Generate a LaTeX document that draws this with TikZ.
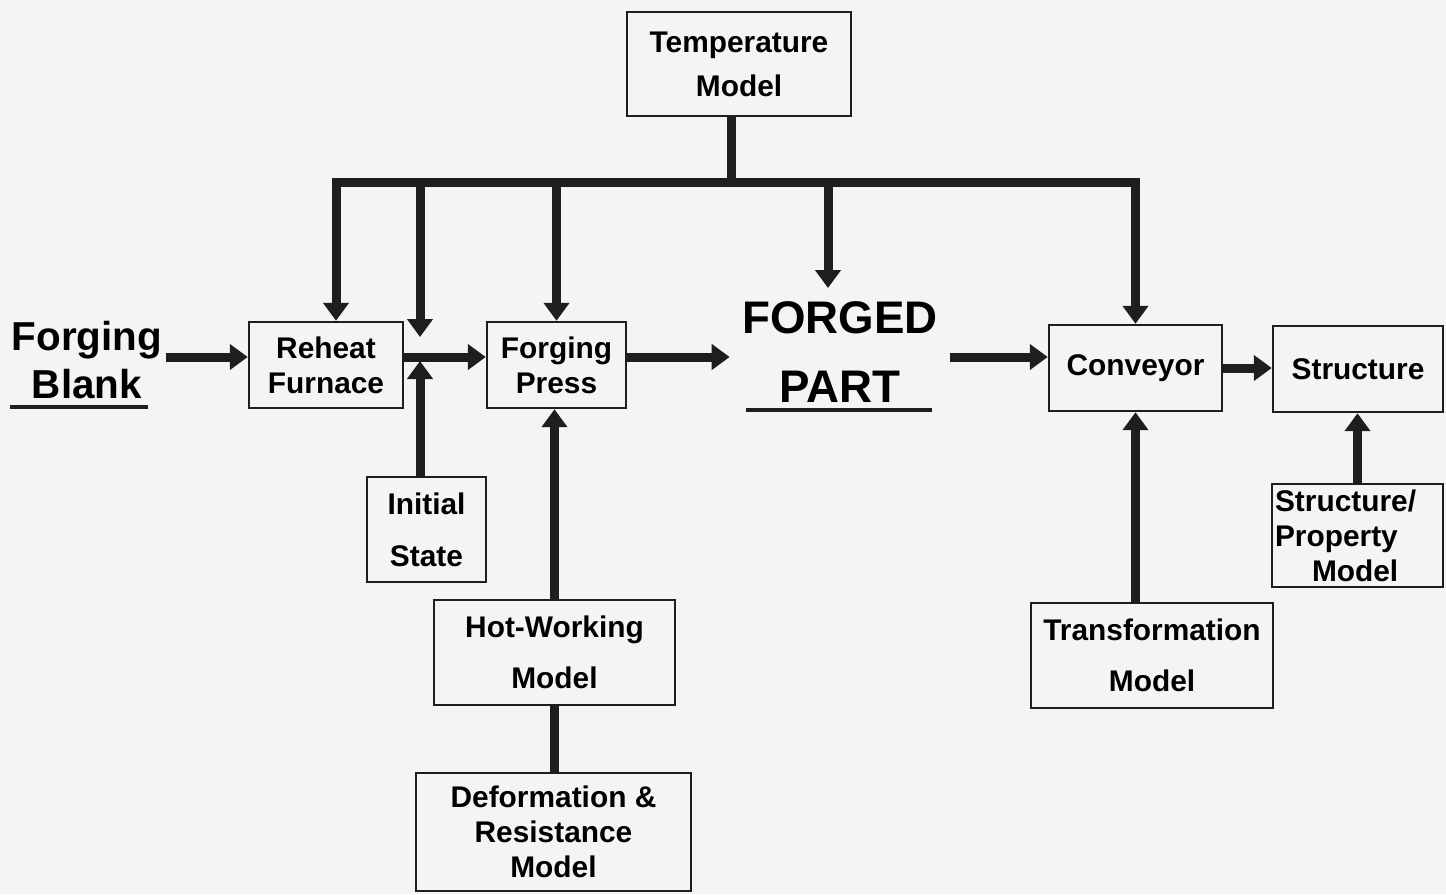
\documentclass[tikz,border=0pt]{standalone}
\usepackage{fontspec}
\setmainfont{Liberation Sans}
\usetikzlibrary{arrows.meta}
\definecolor{ink}{RGB}{30,30,30}
\definecolor{paper}{RGB}{244,244,244}
\newcommand{\boxfont}{\fontsize{17}{20}\selectfont\bfseries}
\tikzset{
  box/.style={draw=ink, line width=1.4pt, inner sep=0pt, align=center, font=\boxfont},
  wh/.style 2 args={minimum width=#1*0.02cm, minimum height=#2*0.02cm},
  flowline/.style={ink, line width=0.18cm},
  flowarr/.style={flowline, -{Triangle[width=0.5cm,length=0.36cm]}},
  uline/.style={ink, line width=2.2pt},
}
\begin{document}
\begin{tikzpicture}[x=0.02cm, y=-0.02cm]
\useasboundingbox[fill=paper] (0,0) rectangle (1446,894);
% process stages
\node[font=\fontsize{23}{27}\selectfont\bfseries, align=center, inner sep=2pt] (blank) at (87,360) {Forging\\Blank};
\node[box, wh={154}{86}] (reheat) at (326,365) {Reheat\\Furnace};
\node[box, wh={139}{86}] (press) at (556.5,365) {Forging\\Press};
\node[font=\fontsize{26}{39}\selectfont\bfseries, align=center, inner sep=0pt, minimum width=220*0.02cm] (forged) at (840,352) {FORGED\\PART};
\node[box, wh={173}{86}] (conveyor) at (1135.5,368) {Conveyor};
\node[box, wh={170}{86}] (structure) at (1358,369) {Structure};
% models
\node[box, wh={224}{104}] (temp) at (739,64) {Temperature\\[5pt]Model};
\node[box, wh={119}{105}] (initial) at (426.5,529.5) {Initial\\[9.6pt]State};
\node[box, wh={241}{105}] (hotwork) at (554.5,652.5) {Hot-Working\\[9pt]Model};
\node[box, wh={275}{118}] (deform) at (553.5,832) {Deformation \&\\Resistance\\Model};
\node[box, wh={242}{105}] (transf) at (1152,655.5) {Transformation\\[9pt]Model};
\node[box, wh={171}{103}, text width=165*0.02cm, align=left] (structprop) at (1357.5,535.5) {Structure/\\Property\\\hspace*{0.74cm}Model};
% helper points
\coordinate (bus) at (731,182);
\coordinate (flow) at (0,357);
\coordinate (jn) at (420,357);
\coordinate (fpin) at (828,288);
% underlines
\draw[uline] (10,407) -- (148,407);
\draw[uline] (746,410) -- (932,410);
% temperature model feeds
\draw[flowline] (bus |- temp.south) -- (bus);
\draw[flowarr] (bus) -| ([xshift=0.2cm]reheat.north);
\draw[flowarr] (bus) -| (conveyor.north);
\draw[flowarr] (bus -| jn) -- ([yshift=0.4cm]jn);
\draw[flowarr] (bus -| press.north) -- (press.north);
\draw[flowarr] (bus -| fpin) -- (fpin);
% main flow
\draw[flowarr] (blank.east |- flow) -- (reheat.west |- flow);
\draw[flowarr] (reheat.east |- flow) -- (press.west |- flow);
\draw[flowarr] (press.east |- flow) -- (forged.west |- flow);
\draw[flowarr] (forged.east |- flow) -- (conveyor.west |- flow);
\draw[flowarr] (conveyor.east) -- (conveyor.east -| structure.west);
% inputs from below
\draw[flowarr] (jn |- initial.north) -- ([yshift=-0.08cm]jn);
\draw[flowarr] (hotwork.north) -- (hotwork.north |- press.south);
\draw[flowline] (hotwork.south) -- (hotwork.south |- deform.north);
\draw[flowarr] (conveyor.south |- transf.north) -- (conveyor.south);
\draw[flowarr] (structprop.north) -- (structprop.north |- structure.south);
\end{tikzpicture}
\end{document}
